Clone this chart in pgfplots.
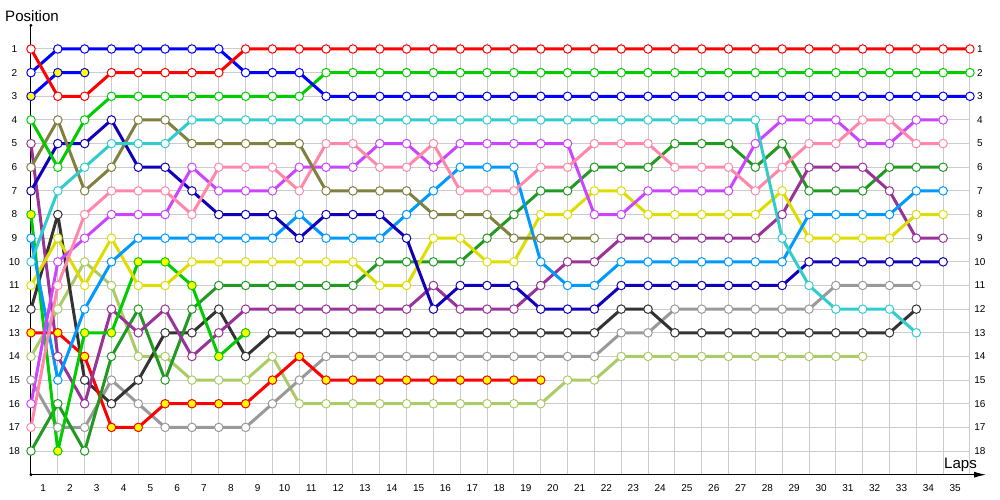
\documentclass[border=0pt]{standalone}
\usepackage{fontspec}
\setmainfont{Liberation Sans}
\usepackage{pgfplots}
\pgfplotsset{compat=1.18}
\usetikzlibrary{arrows.meta}

\definecolor{cred}{HTML}{FF0000}
\definecolor{cblue}{HTML}{0000FF}
\definecolor{cgreen}{HTML}{00CC00}
\definecolor{ccyan}{HTML}{33CCCC}
\definecolor{colive}{HTML}{808040}
\definecolor{cnavy}{HTML}{1100BB}
\definecolor{cpink}{HTML}{FF88AA}
\definecolor{cmag}{HTML}{CC44FF}
\definecolor{cpurple}{HTML}{993399}
\definecolor{clblue}{HTML}{0099FF}
\definecolor{cyellow}{HTML}{DDDD00}
\definecolor{cdgreen}{HTML}{229922}
\definecolor{cblack}{HTML}{333333}
\definecolor{cgray}{HTML}{999999}
\definecolor{clgreen}{HTML}{AACC66}
\definecolor{yfill}{HTML}{FFFF00}
\definecolor{gridc}{HTML}{CCCCCC}

\pgfplotsset{
  car/.style={line width=2.25pt, line join=round, line cap=round,
    mark=*, mark size=3.2pt, mark options={solid, fill=white, line width=0.75pt}},
  carY/.style={line width=2.25pt, line join=round, line cap=round,
    mark=*, mark size=3.2pt, mark options={solid, fill=yfill, line width=0.75pt}},
}
\tikzset{tick/.style={font=\fontsize{7.5}{9}\selectfont, inner sep=0pt}}

\begin{document}
\begin{tikzpicture}
\begin{axis}[
  scale only axis, width=716.3pt, height=337pt,
  xmin=0, xmax=35.6, ymin=0, ymax=19, y dir=reverse,
  hide axis, clip=false,
]
% grid and labels
\pgfplotsinvokeforeach{0,...,35}{
  \draw[gridc, line width=0.75pt] (axis cs:#1,0.73) -- (axis cs:#1,19);
}
\pgfplotsinvokeforeach{1,...,18}{
  \draw[gridc, line width=0.75pt] (axis cs:0,#1) -- (axis cs:35,#1);
  \node[tick] at (axis cs:-0.62,#1) {#1};
  \node[tick] at (axis cs:35.37,#1) {#1};
}
\pgfplotsinvokeforeach{1,...,35}{
  \node[tick, xshift=-11.07pt] at (axis cs:#1,19.55) {#1};
}
\draw[line width=0.75pt, -{Latex[length=9pt,width=4.5pt]}] (axis cs:0,19) -- (axis cs:35.6,19);
\draw[line width=0.75pt] (axis cs:0,19) -- (axis cs:0,0);
\fill (axis cs:0,0) circle (1.2pt);
\fill (axis cs:0,19) circle (1.2pt);
\node[anchor=west, inner sep=0pt, font=\fontsize{11.3}{13}\selectfont] at (axis cs:-0.97,-0.41) {Position};
\node[anchor=base west, inner sep=0pt, font=\fontsize{11.3}{13}\selectfont] at (axis cs:34.03,18.72) {Laps};
\coordinate (bbsw) at (axis cs:-1.155,20.07);
\coordinate (bbne) at (axis cs:36.12,-1.072);

% drivers
\addplot[car, color=clgreen] coordinates {(0,14)(1,12)(2,10)(3,11)(4,14)(5,14)(6,15)(7,15)(8,15)(9,14)(10,16)(11,16)(12,16)(13,16)(14,16)(15,16)(16,16)(17,16)(18,16)(19,16)(20,15)(21,15)(22,14)(23,14)(24,14)(25,14)(26,14)(27,14)(28,14)(29,14)(30,14)(31,14)};
\addplot[car, color=cgray] coordinates {(0,15)(1,17)(2,17)(3,15)(4,16)(5,17)(6,17)(7,17)(8,17)(9,16)(10,15)(11,14)(12,14)(13,14)(14,14)(15,14)(16,14)(17,14)(18,14)(19,14)(20,14)(21,14)(22,13)(23,13)(24,12)(25,12)(26,12)(27,12)(28,12)(29,12)(30,11)(31,11)(32,11)(33,11)};
\addplot[car, color=cblack] coordinates {(0,12)(1,8)(2,15)(3,16)(4,15)(5,13)(6,13)(7,12)(8,14)(9,13)(10,13)(11,13)(12,13)(13,13)(14,13)(15,13)(16,13)(17,13)(18,13)(19,13)(20,13)(21,13)(22,12)(23,12)(24,13)(25,13)(26,13)(27,13)(28,13)(29,13)(30,13)(31,13)(32,13)(33,12)};
\addplot[carY, color=cred] coordinates {(0,13)(1,13)(2,14)(3,17)(4,17)(5,16)(6,16)(7,16)(8,16)(9,15)(10,14)(11,15)(12,15)(13,15)(14,15)(15,15)(16,15)(17,15)(18,15)(19,15)};
\addplot[car, color=cdgreen] coordinates {(0,18)(1,16)(2,18)(3,14)(4,12)(5,15)(6,12)(7,11)(8,11)(9,11)(10,11)(11,11)(12,11)(13,10)(14,10)(15,10)(16,10)(17,9)(18,8)(19,7)(20,7)(21,6)(22,6)(23,6)(24,5)(25,5)(26,5)(27,6)(28,5)(29,7)(30,7)(31,7)(32,6)(33,6)(34,6)};
\addplot[car, color=cpurple] coordinates {(0,5)(1,14)(2,16)(3,12)(4,13)(5,12)(6,14)(7,13)(8,12)(9,12)(10,12)(11,12)(12,12)(13,12)(14,12)(15,11)(16,12)(17,12)(18,12)(19,11)(20,10)(21,10)(22,9)(23,9)(24,9)(25,9)(26,9)(27,9)(28,8)(29,6)(30,6)(31,6)(32,7)(33,9)(34,9)};
\addplot[carY, color=cgreen] coordinates {(0,8)(1,18)(2,13)(3,13)(4,10)(5,10)(6,11)(7,14)(8,13)};
\addplot[car, color=cyellow] coordinates {(0,11)(1,9)(2,11)(3,9)(4,11)(5,11)(6,10)(7,10)(8,10)(9,10)(10,10)(11,10)(12,10)(13,11)(14,11)(15,9)(16,9)(17,10)(18,10)(19,8)(20,8)(21,7)(22,7)(23,8)(24,8)(25,8)(26,8)(27,8)(28,7)(29,9)(30,9)(31,9)(32,9)(33,8)(34,8)};
\addplot[car, color=clblue] coordinates {(0,9)(1,15)(2,12)(3,10)(4,9)(5,9)(6,9)(7,9)(8,9)(9,9)(10,8)(11,9)(12,9)(13,9)(14,8)(15,7)(16,6)(17,6)(18,6)(19,10)(20,11)(21,11)(22,10)(23,10)(24,10)(25,10)(26,10)(27,10)(28,10)(29,8)(30,8)(31,8)(32,8)(33,7)(34,7)};
\addplot[car, color=cnavy] coordinates {(0,7)(1,5)(2,5)(3,4)(4,6)(5,6)(6,7)(7,8)(8,8)(9,8)(10,9)(11,8)(12,8)(13,8)(14,9)(15,12)(16,11)(17,11)(18,11)(19,12)(20,12)(21,12)(22,11)(23,11)(24,11)(25,11)(26,11)(27,11)(28,11)(29,10)(30,10)(31,10)(32,10)(33,10)(34,10)};
\addplot[car, color=cmag] coordinates {(0,16)(1,10)(2,9)(3,8)(4,8)(5,8)(6,6)(7,7)(8,7)(9,7)(10,6)(11,6)(12,6)(13,5)(14,5)(15,6)(16,5)(17,5)(18,5)(19,5)(20,5)(21,8)(22,8)(23,7)(24,7)(25,7)(26,7)(27,5)(28,4)(29,4)(30,4)(31,5)(32,5)(33,4)(34,4)};
\addplot[car, color=cpink] coordinates {(0,17)(1,11)(2,8)(3,7)(4,7)(5,7)(6,8)(7,6)(8,6)(9,6)(10,7)(11,5)(12,5)(13,6)(14,6)(15,5)(16,7)(17,7)(18,7)(19,6)(20,6)(21,5)(22,5)(23,5)(24,6)(25,6)(26,6)(27,7)(28,6)(29,5)(30,5)(31,4)(32,4)(33,5)(34,5)};
\addplot[car, color=colive] coordinates {(0,6)(1,4)(2,7)(3,6)(4,4)(5,4)(6,5)(7,5)(8,5)(9,5)(10,5)(11,7)(12,7)(13,7)(14,7)(15,8)(16,8)(17,8)(18,9)(19,9)(20,9)(21,9)};
\addplot[car, color=ccyan] coordinates {(0,10)(1,7)(2,6)(3,5)(4,5)(5,5)(6,4)(7,4)(8,4)(9,4)(10,4)(11,4)(12,4)(13,4)(14,4)(15,4)(16,4)(17,4)(18,4)(19,4)(20,4)(21,4)(22,4)(23,4)(24,4)(25,4)(26,4)(27,4)(28,9)(29,11)(30,12)(31,12)(32,12)(33,13)};
\addplot[car, color=cgreen] coordinates {(0,4)(1,6)(2,4)(3,3)(4,3)(5,3)(6,3)(7,3)(8,3)(9,3)(10,3)(11,2)(12,2)(13,2)(14,2)(15,2)(16,2)(17,2)(18,2)(19,2)(20,2)(21,2)(22,2)(23,2)(24,2)(25,2)(26,2)(27,2)(28,2)(29,2)(30,2)(31,2)(32,2)(33,2)(34,2)(35,2)};
\addplot[carY, color=cblue] coordinates {(0,3)(1,2)(2,2)};
\addplot[car, color=cblue] coordinates {(0,2)(1,1)(2,1)(3,1)(4,1)(5,1)(6,1)(7,1)(8,2)(9,2)(10,2)(11,3)(12,3)(13,3)(14,3)(15,3)(16,3)(17,3)(18,3)(19,3)(20,3)(21,3)(22,3)(23,3)(24,3)(25,3)(26,3)(27,3)(28,3)(29,3)(30,3)(31,3)(32,3)(33,3)(34,3)(35,3)};
\addplot[car, color=cred] coordinates {(0,1)(1,3)(2,3)(3,2)(4,2)(5,2)(6,2)(7,2)(8,1)(9,1)(10,1)(11,1)(12,1)(13,1)(14,1)(15,1)(16,1)(17,1)(18,1)(19,1)(20,1)(21,1)(22,1)(23,1)(24,1)(25,1)(26,1)(27,1)(28,1)(29,1)(30,1)(31,1)(32,1)(33,1)(34,1)(35,1)};
\end{axis}
\pgfresetboundingbox
\path[use as bounding box] (bbsw) rectangle (bbne);
\end{tikzpicture}
\end{document}
